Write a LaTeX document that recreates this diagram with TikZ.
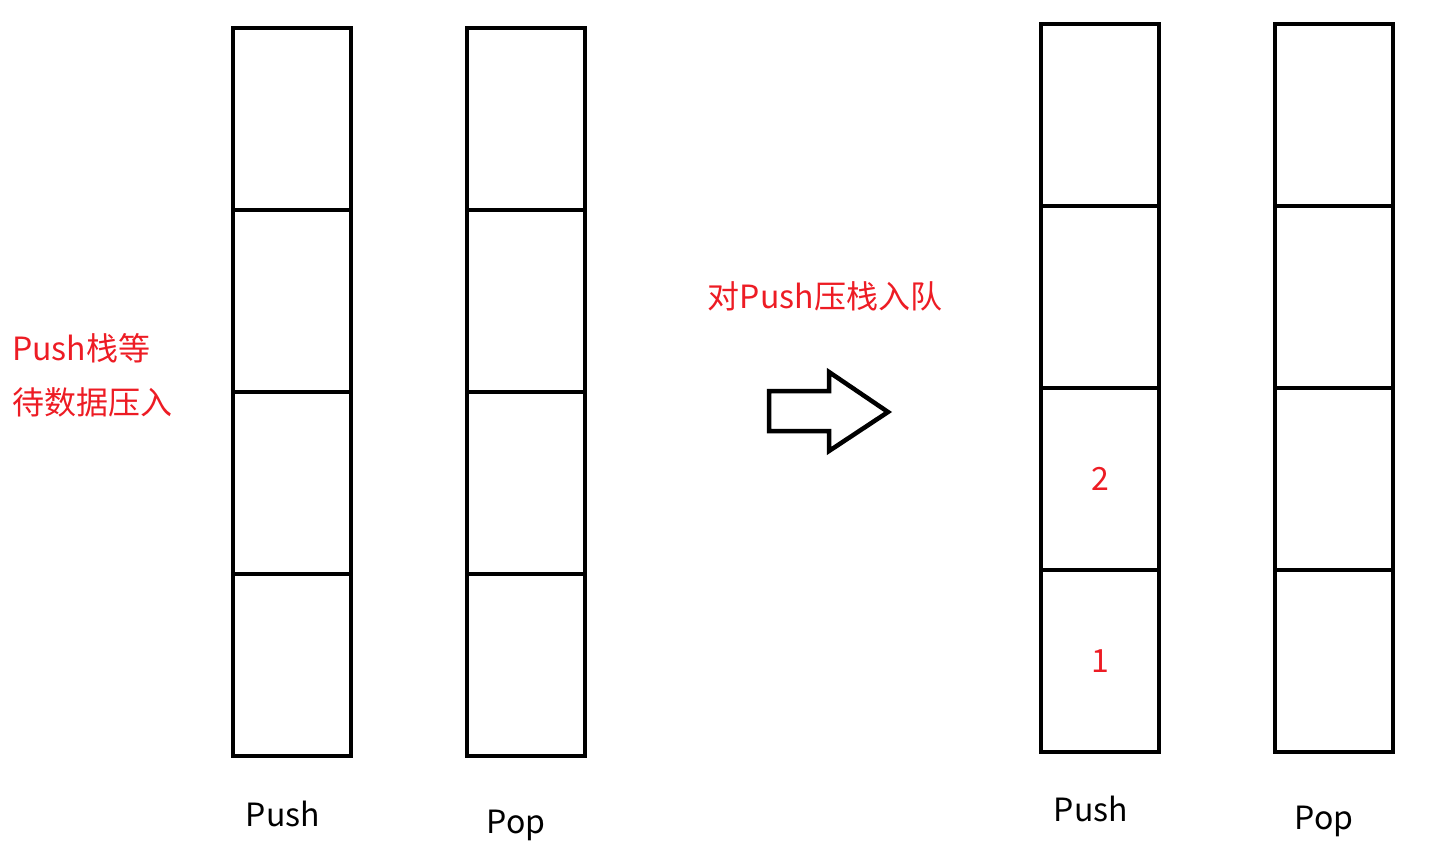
\documentclass[tikz,border=0pt]{standalone}
\usepackage{fontspec}
\setmainfont{Noto Sans CJK SC}
\usetikzlibrary{positioning}
\definecolor{paintred}{RGB}{237,28,36}

\begin{document}
\begin{tikzpicture}[x=1pt, y=-1pt, node distance=0pt]
    \tikzstyle{cell}=[rectangle, draw, line width=4.5pt, outer sep=0pt, inner sep=0pt, minimum width=118pt, minimum height=182pt]
    \tikzstyle{stackname}=[anchor=base, inner sep=0pt, font=\fontsize{32}{38}\selectfont]
    \tikzstyle{note}=[text=paintred, inner sep=0pt, font=\fontsize{32}{38}\selectfont]

    \useasboundingbox (0,0) rectangle (1429,846);

    % before: both stacks empty
    \node[cell] (lpush1) at (292,119) {};
    \node[cell, below=of lpush1] (lpush2) {};
    \node[cell, below=of lpush2] (lpush3) {};
    \node[cell, below=of lpush3] (lpush4) {};

    \node[cell] (lpop1) at (526,119) {};
    \node[cell, below=of lpop1] (lpop2) {};
    \node[cell, below=of lpop2] (lpop3) {};
    \node[cell, below=of lpop3] (lpop4) {};

    \node[stackname] (lpushname) at (283,826) {Push};
    \node[stackname] (lpopname) at (516,833) {Pop};

    \node[note, anchor=base west] (wait1) at (12,360) {Push栈等};
    \node[note, anchor=base west] (wait2) at (12,414) {待数据压入};

    % hollow arrow
    \node[note, anchor=base] (step) at (825,308) {对Push压栈入队};
    \draw[line width=4.5pt, miter limit=20] (769,391) -- (829,391) -- (829,372) -- (888,412)
        -- (829,451) -- (829,431) -- (769,431) -- cycle;

    % after: two items in Push
    \node[cell] (rpush1) at (1100,115) {};
    \node[cell, below=of rpush1] (rpush2) {};
    \node[cell, below=of rpush2] (rpush3) {};
    \node[cell, below=of rpush3] (rpush4) {};

    \node[cell] (rpop1) at (1334,115) {};
    \node[cell, below=of rpop1] (rpop2) {};
    \node[cell, below=of rpop2] (rpop3) {};
    \node[cell, below=of rpop3] (rpop4) {};

    \node[note] (item2) at (rpush3) {2};
    \node[note] (item1) at (rpush4) {1};

    \node[stackname] (rpushname) at (1091,821) {Push};
    \node[stackname] (rpopname) at (1324,829) {Pop};
\end{tikzpicture}
\end{document}
